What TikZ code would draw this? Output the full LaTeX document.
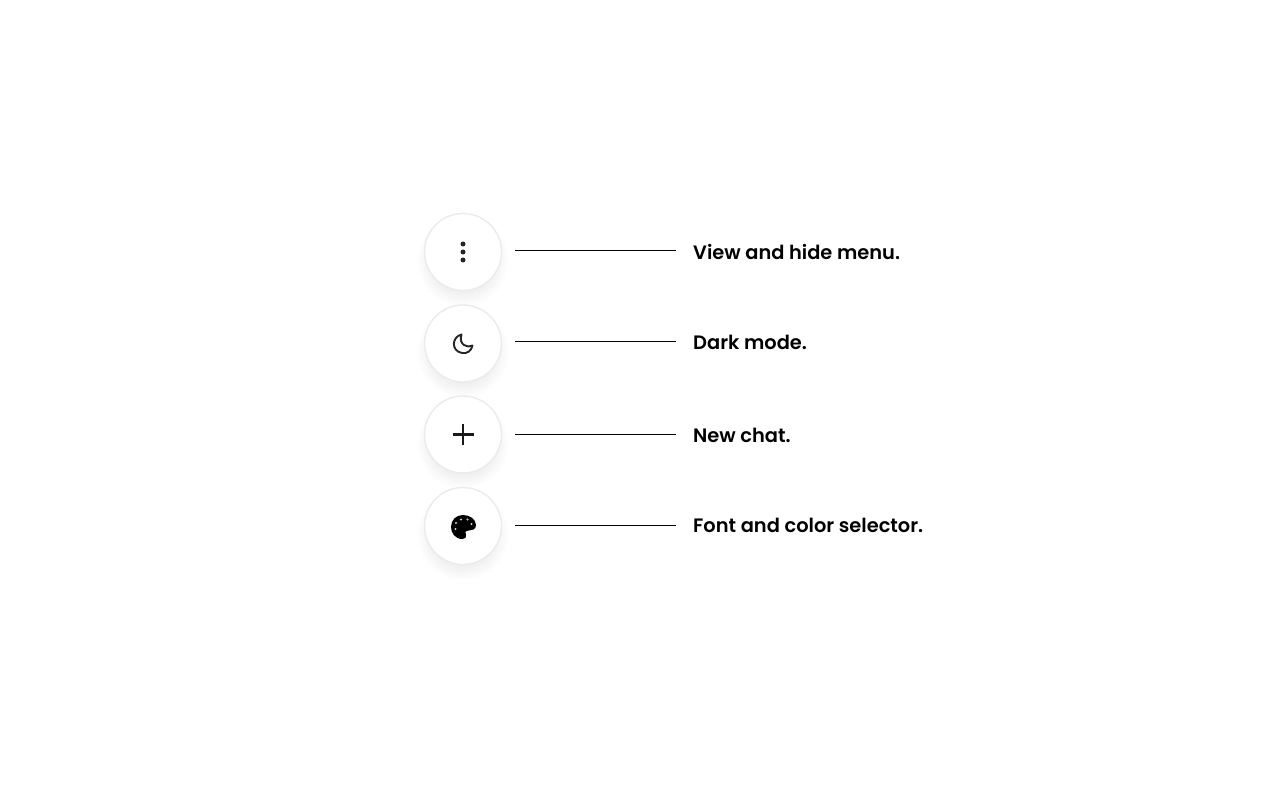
\documentclass[tikz,border=0pt]{standalone}
\usepackage{fontspec}
\setmainfont{Poppins SemiBold}
\definecolor{rimc}{HTML}{EBEBEB}
\tikzset{
  x=1pt,y=-1pt,
  btn/.style={circle,draw=rimc,line width=1.4pt,fill=white,minimum size=77pt,inner sep=0pt},
  lead/.style={draw=black,line width=1pt},
  lbl/.style={anchor=west,inner sep=0pt,font=\fontsize{19.4}{24}\selectfont,text=black},
}
\newcommand{\softshadow}[2]{%
  \foreach \r in {26,27,...,46}{\fill[black,opacity=0.005] (#1,#2+9) circle (\r);}%
}
\begin{document}
\begin{tikzpicture}
\useasboundingbox (0,0) rectangle (1280,800);
\fill[white] (0,0) rectangle (1280,800);
\softshadow{463}{252}
\softshadow{463}{343.5}
\softshadow{463}{434.5}
\softshadow{463}{526}
\node[btn] (b1) at (463,252) {};
\node[btn] (b2) at (463,343.5) {};
\node[btn] (b3) at (463,434.5) {};
\node[btn] (b4) at (463,526) {};
% dots
\fill[black!85] (463,244) circle (2.5) (463,252) circle (2.5) (463,260) circle (2.5);
% moon
\draw[black!85,line width=1.9pt,line join=round]
  (461.5,334.5) .. controls (451.5,337) and (451,351) .. (462,353)
  .. controls (467.5,354) and (471.5,350.5) .. (472.5,345.5)
  .. controls (468,348.5) and (458,345) .. (461.5,334.5) -- cycle;
% plus
\draw[black!90,line width=2.6pt] (452.5,434.5) -- (473.5,434.5) (463,424) -- (463,445);
% palette
\fill[black] (463,515)
  .. controls (470,515) and (476,519.5) .. (476,525)
  .. controls (476,529.5) and (472,530.5) .. (469,530.5)
  .. controls (465,530.5) and (464.5,533) .. (466,535)
  .. controls (467,537.5) and (465,539) .. (462.5,539)
  .. controls (455,539) and (451,533) .. (451,527)
  .. controls (451,520) and (456,515) .. (463,515) -- cycle;
\fill[white,opacity=0.8] (456,523) circle (1.2) (461,519.5) circle (1.2) (467.5,519.5) circle (1.2) (471.5,524) circle (1.2) (455.5,529) circle (1.2);
% labels
\node[lbl] (t1) at (693,251.5) {View and hide menu.};
\node[lbl] (t2) at (693,342) {Dark mode.};
\node[lbl] (t3) at (693,435) {New chat.};
\node[lbl] (t4) at (693,525) {Font and color selector.};
% connector ends
\coordinate (a1) at (515,250.5); \coordinate (e1) at (676,250.5);
\coordinate (a2) at (515,341.5); \coordinate (e2) at (676,341.5);
\coordinate (a3) at (515,434); \coordinate (e3) at (676,434);
\coordinate (a4) at (515,525); \coordinate (e4) at (676,525);
\draw[lead] (a1) -- (e1);
\draw[lead] (a2) -- (e2);
\draw[lead] (a3) -- (e3);
\draw[lead] (a4) -- (e4);
\end{tikzpicture}
\end{document}
